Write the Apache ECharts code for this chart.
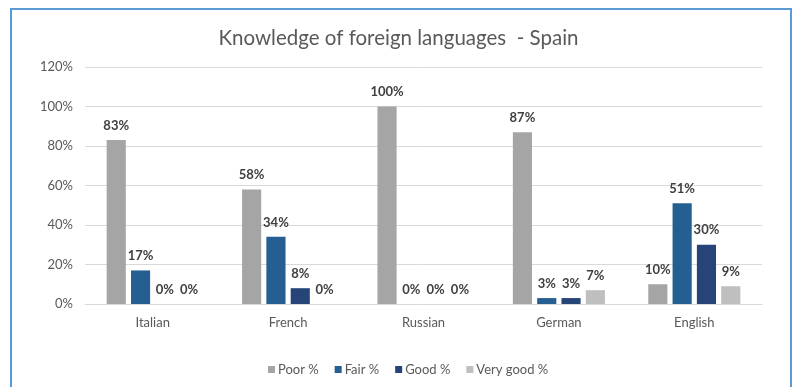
<!DOCTYPE html>
<html>
<head>
<meta charset="utf-8">
<script src="https://cdn.jsdelivr.net/npm/echarts@6/dist/echarts.min.js"></script>
<style>
  html, body { margin: 0; padding: 0; background: #ffffff; }
  #chart { width: 797px; height: 387px; }
</style>
</head>
<body>
<div id="chart"></div>
<script>
// Languages and self-rated knowledge level shares (%)
const languages = ['Italian', 'French', 'Russian', 'German', 'English'];
const poor = [83, 58, 100, 87, 10];
const fair = [17, 34, 0, 3, 51];
const good = [0, 8, 0, 3, 30];
const veryGood = [0, 0, 0, 7, 9];
const levelNames = ['Poor %', 'Fair %', 'Good %', 'Very good %'];
const levelColors = ['#a5a5a5', '#255e91', '#264478', '#bfbfbf'];
const yTicks = { min: 0, max: 120, interval: 20 };

const FONT = 'Lato, "Open Sans", sans-serif';
const chart = echarts.init(document.getElementById('chart'), null, { renderer: 'canvas' });

const seriesData = [poor, fair, good, veryGood];

chart.setOption({
  animation: false,
  backgroundColor: '#ffffff',
  title: {
    text: 'Knowledge of foreign languages  - Spain',
    left: 'center',
    top: 23,
    textStyle: { fontFamily: FONT, fontSize: 20.5, fontWeight: 'normal', color: '#595959' }
  },
  graphic: [{
    type: 'rect',
    shape: { x: 11, y: 9, width: 780, height: 400 },
    style: { fill: 'none', stroke: '#5b9bd5', lineWidth: 2 },
    silent: true
  }],
  grid: { left: 85, right: 35, top: 67, bottom: 83 },
  legend: {
    bottom: 6,
    left: 263,
    itemWidth: 7,
    itemHeight: 7,
    itemGap: 16,
    icon: 'rect',
    textStyle: { fontFamily: FONT, fontSize: 13, color: '#595959', padding: [0, 0, 0, -2] },
    data: levelNames
  },
  xAxis: {
    type: 'category',
    data: languages,
    axisLine: { lineStyle: { color: '#d9d9d9', width: 1 } },
    axisTick: { show: false },
    axisLabel: { fontFamily: FONT, fontSize: 13, color: '#595959', margin: 12 }
  },
  yAxis: {
    type: 'value',
    min: yTicks.min,
    max: yTicks.max,
    interval: yTicks.interval,
    axisLine: { show: false },
    axisTick: { show: false },
    splitLine: { lineStyle: { color: '#d9d9d9', width: 1 } },
    axisLabel: { fontFamily: FONT, fontSize: 13, color: '#595959', margin: 12, formatter: '{value}%' }
  },
  series: seriesData.map((vals, i) => ({
    name: levelNames[i],
    type: 'bar',
    data: vals,
    barGap: '27%',
    barCategoryGap: '32%',
    itemStyle: { color: levelColors[i] },
    label: {
      show: true,
      position: 'top',
      distance: 8,
      formatter: '{c}%',
      fontFamily: FONT,
      fontSize: 13,
      fontWeight: 'bold',
      color: '#404040'
    }
  }))
});
</script>
</body>
</html>
